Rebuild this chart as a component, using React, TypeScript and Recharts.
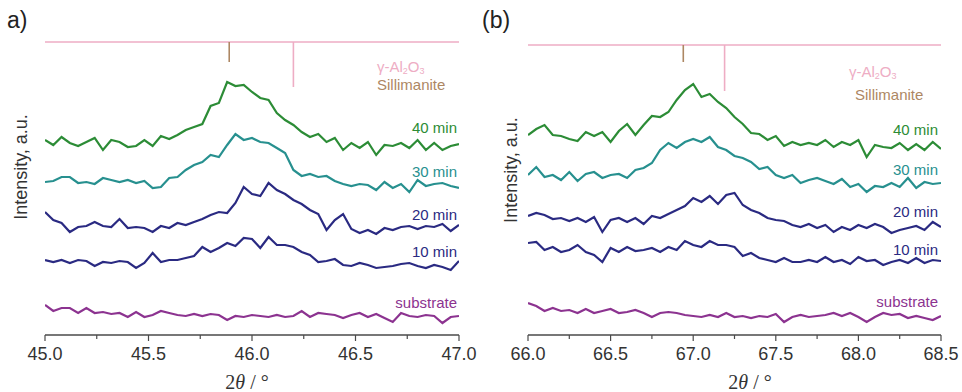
import React from "react";
import { Line, LineChart, ReferenceLine, XAxis, YAxis } from "recharts";

// 2θ sampling grids
const anglesA = [
  45.0, 45.04, 45.08, 45.12, 45.16, 45.2, 45.24, 45.28, 45.32, 45.36, 45.4, 45.44, 45.48,
  45.52, 45.56, 45.6, 45.64, 45.68, 45.72, 45.76, 45.8, 45.84, 45.88, 45.92, 45.96, 46.0,
  46.04, 46.08, 46.12, 46.16, 46.2, 46.24, 46.28, 46.32, 46.36, 46.4, 46.44, 46.48, 46.52,
  46.56, 46.6, 46.64, 46.68, 46.72, 46.76, 46.8, 46.84, 46.88, 46.92, 46.96, 47.0,
];
const anglesB = [
  66.0, 66.05, 66.1, 66.15, 66.2, 66.25, 66.3, 66.35, 66.4, 66.45, 66.5, 66.55, 66.6,
  66.65, 66.7, 66.75, 66.8, 66.85, 66.9, 66.95, 67.0, 67.05, 67.1, 67.15, 67.2, 67.25,
  67.3, 67.35, 67.4, 67.45, 67.5, 67.55, 67.6, 67.65, 67.7, 67.75, 67.8, 67.85, 67.9,
  67.95, 68.0, 68.05, 68.1, 68.15, 68.2, 68.25, 68.3, 68.35, 68.4, 68.45, 68.5,
];

// panel a) intensities (stacked, a.u.)
const a40 = [195, 190, 198, 192, 189, 193, 197, 185, 195, 193, 188, 189, 195, 189, 199, 196, 200, 205, 208, 211, 229, 232, 253, 249, 250, 243, 237, 235, 222, 215, 210, 203, 198, 201, 193, 197, 185, 192, 187, 193, 180, 190, 189, 192, 187, 195, 185, 192, 185, 189, 191];
const a30 = [153, 154, 158, 158, 152, 153, 151, 157, 155, 153, 155, 152, 154, 147, 148, 157, 158, 165, 170, 173, 180, 178, 190, 201, 195, 197, 193, 192, 187, 182, 165, 159, 161, 158, 159, 154, 151, 149, 151, 150, 145, 153, 147, 151, 143, 155, 149, 151, 152, 149, 147];
const a20 = [123, 115, 112, 103, 108, 109, 113, 109, 108, 116, 107, 108, 107, 103, 109, 107, 112, 110, 113, 116, 120, 123, 122, 132, 148, 141, 139, 152, 145, 141, 135, 131, 125, 121, 105, 115, 121, 106, 102, 105, 101, 107, 105, 108, 109, 106, 109, 108, 111, 104, 110];
const a10 = [75, 73, 75, 72, 75, 74, 69, 73, 72, 74, 73, 67, 72, 82, 73, 75, 75, 77, 79, 88, 83, 87, 92, 89, 97, 96, 87, 98, 90, 90, 88, 83, 80, 73, 74, 76, 70, 69, 72, 70, 67, 68, 69, 71, 72, 69, 67, 70, 68, 65, 74];
const aSub = [30, 24, 27, 27, 22, 27, 22, 23, 21, 22, 18, 23, 18, 20, 24, 22, 20, 19, 21, 19, 21, 20, 15, 19, 18, 20, 19, 18, 20, 18, 19, 24, 18, 22, 21, 20, 17, 20, 22, 18, 21, 17, 13, 22, 19, 18, 20, 19, 12, 18, 19];

// panel (b) intensities (stacked, a.u.)
const b40 = [200, 206, 210, 200, 199, 196, 194, 203, 199, 203, 193, 204, 211, 200, 210, 219, 218, 223, 235, 245, 251, 238, 241, 233, 227, 218, 211, 202, 201, 195, 199, 189, 193, 190, 192, 190, 195, 188, 193, 190, 195, 178, 190, 188, 187, 192, 185, 191, 185, 193, 186];
const b30 = [160, 168, 158, 160, 155, 163, 154, 161, 163, 157, 160, 161, 157, 165, 167, 172, 185, 192, 187, 193, 196, 193, 198, 188, 185, 179, 177, 173, 166, 168, 160, 157, 160, 152, 155, 157, 154, 151, 156, 148, 151, 143, 149, 148, 152, 148, 157, 147, 153, 151, 152];
const b20 = [119, 122, 120, 116, 117, 114, 117, 113, 118, 103, 115, 117, 113, 117, 111, 119, 117, 121, 125, 129, 137, 133, 139, 131, 140, 142, 130, 125, 122, 117, 115, 114, 110, 108, 111, 107, 110, 103, 108, 105, 110, 107, 111, 108, 102, 105, 107, 109, 105, 113, 108];
const b10 = [92, 93, 85, 88, 83, 85, 90, 83, 80, 73, 87, 83, 88, 84, 85, 87, 83, 88, 85, 94, 90, 88, 94, 90, 90, 88, 79, 82, 77, 75, 73, 77, 73, 73, 75, 73, 78, 73, 75, 71, 78, 74, 75, 70, 73, 75, 72, 77, 72, 75, 74];
const bSub = [32, 29, 24, 27, 24, 25, 22, 26, 22, 24, 26, 22, 23, 25, 22, 18, 22, 23, 22, 20, 19, 18, 20, 18, 22, 18, 19, 17, 19, 18, 21, 13, 18, 20, 18, 19, 20, 22, 19, 22, 18, 13, 18, 22, 20, 21, 17, 19, 17, 15, 19];

// axis ticks
const ticksA = [45.0, 45.25, 45.5, 45.75, 46.0, 46.25, 46.5, 46.75, 47.0];
const ticksB = [66.0, 66.25, 66.5, 66.75, 67.0, 67.25, 67.5, 67.75, 68.0, 68.25, 68.5];

// reference peak positions: [sillimanite, γ-Al2O3]
const refA = [45.89, 46.2];
const refB = [66.94, 67.19];
// reference bar: baseline level, sillimanite top, γ-Al2O3 top
const refLevelsA = [293, 273, 248];
const refLevelsB = [290, 273, 244];

const seriesNames = ["40 min", "30 min", "20 min", "10 min", "substrate"];

const C40 = "#2c8c36";
const C30 = "#27908f";
const CNAVY = "#2a2a82";
const CSUB = "#8c3390";
const CPINK = "#eeadc4";
const CBROWN = "#ad8763";
const AXIS = "#4a4a4a";
const SANS = "'Liberation Sans', Arial, sans-serif";

const AxisTick = (props: any) => {
  const { x, y, payload } = props;
  const v = payload.value as number;
  const major = Math.abs(v * 2 - Math.round(v * 2)) < 1e-6;
  return (
    <g>
      <line x1={x} x2={x} y1={y} y2={y + (major ? 6 : 4)} stroke={AXIS} strokeWidth={1.2} />
      {major && (
        <text x={x} y={y + 25} textAnchor="middle" fontSize={18} fill="#333" fontFamily={SANS}>
          {v.toFixed(1)}
        </text>
      )}
    </g>
  );
};

type PanelProps = {
  angles: number[];
  series: number[][];
  ticks: number[];
  refs: number[];
  levels: number[];
  width: number;
  marginLeft: number;
  marginRight: number;
};

function Panel({ angles, series, ticks, refs, levels, width, marginLeft, marginRight }: PanelProps) {
  const rows = angles.map((t, i) => ({
    t,
    s40: series[0][i],
    s30: series[1][i],
    s20: series[2][i],
    s10: series[3][i],
    sub: series[4][i],
  }));
  const lineProps = { type: "linear" as const, dot: false, strokeWidth: 2.2, isAnimationActive: false };
  return (
    <LineChart
      width={width}
      height={392}
      data={rows}
      margin={{ top: 35, right: marginRight, bottom: 27, left: marginLeft }}
    >
      <XAxis
        dataKey="t"
        type="number"
        domain={[ticks[0], ticks[ticks.length - 1]]}
        ticks={ticks}
        interval={0}
        tick={<AxisTick />}
        tickLine={false}
        tickSize={0}
        tickMargin={0}
        height={30}
        axisLine={{ stroke: AXIS, strokeWidth: 1.5 }}
        allowDataOverflow
      />
      <YAxis
        type="number"
        domain={[0, 300]}
        width={0}
        tick={false}
        tickLine={false}
        axisLine={{ stroke: AXIS, strokeWidth: 1.5 }}
        allowDataOverflow
      />
      <ReferenceLine y={levels[0]} stroke={CPINK} strokeWidth={1.6} />
      <ReferenceLine
        segment={[{ x: refs[0], y: levels[0] }, { x: refs[0], y: levels[1] }]}
        stroke={CBROWN}
        strokeWidth={1.6}
      />
      <ReferenceLine
        segment={[{ x: refs[1], y: levels[0] }, { x: refs[1], y: levels[2] }]}
        stroke={CPINK}
        strokeWidth={1.6}
      />
      <Line dataKey="sub" stroke={CSUB} {...lineProps} />
      <Line dataKey="s10" stroke={CNAVY} {...lineProps} />
      <Line dataKey="s20" stroke={CNAVY} {...lineProps} />
      <Line dataKey="s30" stroke={C30} {...lineProps} />
      <Line dataKey="s40" stroke={C40} {...lineProps} />
    </LineChart>
  );
}

function PanelText({ right, gammaX, silliX, gammaY, silliY, yTitleX, yTitleY, xTitleX, baselines }: any) {
  const colors = [C40, C30, CNAVY, CNAVY, CSUB];
  return (
    <g>
      <text x={gammaX} y={gammaY} fontSize={15} fill={CPINK} fontFamily={SANS}>
        γ-Al<tspan fontSize={9} dy={2}>2</tspan>
        <tspan dy={-2}>O</tspan>
        <tspan fontSize={9} dy={2}>3</tspan>
      </text>
      <text x={silliX} y={silliY} fontSize={15} fill={CBROWN} fontFamily={SANS}>
        Sillimanite
      </text>
      {seriesNames.map((n, i) => (
        <text key={n} x={right} y={baselines[i]} textAnchor="end" fontSize={15} fill={colors[i]} fontFamily={SANS}>
          {n}
        </text>
      ))}
      <text
        x={yTitleX}
        y={yTitleY}
        transform={`rotate(-90 ${yTitleX} ${yTitleY})`}
        textAnchor="middle"
        dominantBaseline="central"
        fontSize={18}
        fill="#333"
        fontFamily={SANS}
      >
        Intensity, a.u.
      </text>
      <text x={xTitleX} y={389} textAnchor="middle" fontSize={20} fill="#333" fontFamily="'Liberation Serif', 'Times New Roman', serif">
        2<tspan fontStyle="italic">θ</tspan> / °
      </text>
    </g>
  );
}

export default function App() {
  return (
    <div style={{ position: "absolute", left: 0, top: 0, width: 962, height: 392, background: "#fff" }}>
      <div style={{ position: "absolute", left: 0, top: 0 }}>
        <Panel
          angles={anglesA}
          series={[a40, a30, a20, a10, aSub]}
          ticks={ticksA}
          refs={refA}
          levels={refLevelsA}
          width={480}
          marginLeft={45}
          marginRight={21}
        />
      </div>
      <div style={{ position: "absolute", left: 480, top: 0 }}>
        <Panel
          angles={anglesB}
          series={[b40, b30, b20, b10, bSub]}
          ticks={ticksB}
          refs={refB}
          levels={refLevelsB}
          width={482}
          marginLeft={48}
          marginRight={21}
        />
      </div>
      <svg width={962} height={392} style={{ position: "absolute", left: 0, top: 0, pointerEvents: "none" }}>
        <text x={7} y={28} fontSize={23} fill="#222" fontFamily={SANS}>
          a)
        </text>
        <text x={482} y={28} fontSize={23} fill="#222" fontFamily={SANS}>
          (b)
        </text>
        <PanelText
          right={457}
          gammaX={377}
          silliX={377}
          gammaY={72}
          silliY={90}
          yTitleX={21}
          yTitleY={167}
          xTitleX={247}
          baselines={[133, 177, 220, 257, 308]}
        />
        <PanelText
          right={938}
          gammaX={849}
          silliX={855}
          gammaY={77}
          silliY={100}
          yTitleX={511}
          yTitleY={170}
          xTitleX={750}
          baselines={[135, 175, 217, 255, 307]}
        />
      </svg>
    </div>
  );
}
